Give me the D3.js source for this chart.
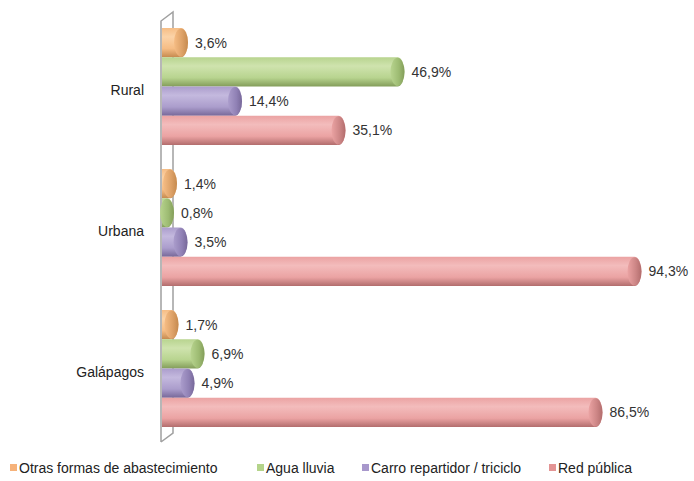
<!DOCTYPE html>
<html>
<head>
<meta charset="utf-8">
<script src="https://cdn.jsdelivr.net/npm/d3@7"></script>
<style>
  body { margin: 0; background: #fff; }
  svg { font-family: "Liberation Sans", Arial, sans-serif; }
</style>
</head>
<body>
<div id="chart"></div>
<script>
const categories = ["Rural", "Urbana", "Galápagos"];
const series = ["Otras formas de abastecimiento", "Agua lluvia", "Carro repartidor / triciclo", "Red pública"];
const otras = [3.6, 1.4, 1.7];
const agua = [46.9, 0.8, 6.9];
const carro = [14.4, 3.5, 4.9];
const red = [35.1, 94.3, 86.5];
const values = [otras, agua, carro, red];

const width = 694;
const height = 481;

// light, mid, dark for each series
const palette = [
  { base: "#f6bd85", light: "#fbd3a8", dark: "#c58a4f", cap: "#dca066" },
  { base: "#b8d48f", light: "#cfe3ae", dark: "#839d5a", cap: "#9dbb72" },
  { base: "#ab9dcc", light: "#c4b9de", dark: "#776899", cap: "#9081b5" },
  { base: "#eba3a3", light: "#f3bcbc", dark: "#b26d6d", cap: "#cc8585" }
];
const legendColor = ["#f6b27a", "#b4d48a", "#a898cc", "#e39494"];

const svg = d3.select("#chart").append("svg")
  .attr("width", width)
  .attr("height", height);

const defs = svg.append("defs");
palette.forEach((p, i) => {
  const g = defs.append("linearGradient").attr("id", "body" + i)
    .attr("x1", 0).attr("y1", 0).attr("x2", 0).attr("y2", 1);
  g.append("stop").attr("offset", "0").attr("stop-color", p.base);
  g.append("stop").attr("offset", "0.3").attr("stop-color", p.light);
  g.append("stop").attr("offset", "0.7").attr("stop-color", p.base);
  g.append("stop").attr("offset", "1").attr("stop-color", p.dark);
  const c = defs.append("linearGradient").attr("id", "cap" + i)
    .attr("x1", 0).attr("y1", 0).attr("x2", 1).attr("y2", 0);
  c.append("stop").attr("offset", "0").attr("stop-color", p.base);
  c.append("stop").attr("offset", "0.6").attr("stop-color", p.cap);
  c.append("stop").attr("offset", "1").attr("stop-color", p.dark);
});

const x = d3.scaleLinear().domain([0, 100]).range([163, 663]);
const y = d3.scaleBand().domain(categories).range([16, 439])
  .paddingInner(0.17).paddingOuter(0.085);
const ySub = d3.scaleBand().domain(series).range([0, y.bandwidth()]);

// side wall
const wall = svg.append("g").attr("fill", "none").attr("stroke", "#a0a0a0").attr("stroke-width", 1.5);
wall.append("path").attr("d", "M161,442 L161,21 L173,12 L173,433 L161,442");

const bh = ySub.bandwidth();
const rx = 7;

categories.forEach((cat, ci) => {
  const g = svg.append("g").attr("transform", `translate(0,${y(cat)})`);
  series.forEach((s, si) => {
    const v = values[si][ci];
    const y0 = ySub(s);
    const xe = x(v);
    const x0 = 162;
    const bar = g.append("g");
    bar.append("path")
      .attr("d", `M${x0},${y0} L${xe},${y0} A${rx},${bh / 2} 0 0 1 ${xe},${y0 + bh} L${x0},${y0 + bh} Z`)
      .attr("fill", `url(#body${si})`);
    bar.append("ellipse")
      .attr("cx", xe).attr("cy", y0 + bh / 2)
      .attr("rx", rx).attr("ry", bh / 2 - 0.5)
      .attr("fill", `url(#cap${si})`);
    g.append("text")
      .attr("x", xe + rx + 7)
      .attr("y", y0 + bh / 2)
      .attr("dy", "0.35em")
      .attr("font-size", 14)
      .attr("fill", "#333")
      .text(v.toFixed(1).replace(".", ",") + "%");
  });
  svg.append("text")
    .attr("x", 144)
    .attr("y", y(cat) + y.bandwidth() / 2 + 4)
    .attr("dy", "0.35em")
    .attr("text-anchor", "end")
    .attr("font-size", 14)
    .attr("fill", "#222")
    .text(cat);
});

// legend
const legendX = [10, 257, 362, 549];
const legend = svg.append("g").attr("transform", "translate(0,468)");
series.forEach((s, i) => {
  legend.append("rect")
    .attr("x", legendX[i]).attr("y", -4)
    .attr("width", 7).attr("height", 7)
    .attr("fill", legendColor[i]);
  legend.append("text")
    .attr("x", legendX[i] + 9)
    .attr("dy", "0.35em")
    .attr("font-size", 14)
    .attr("fill", "#222")
    .text(s);
});
</script>
</body>
</html>
